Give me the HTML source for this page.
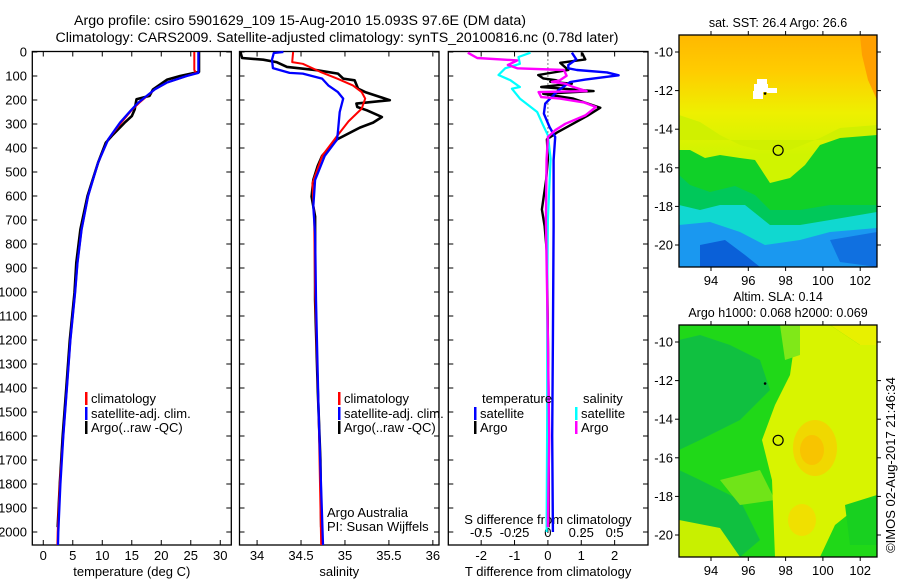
<!DOCTYPE html>
<html><head><meta charset="utf-8"><style>
html,body{margin:0;padding:0;background:#fff;}
svg{display:block;font-family:"Liberation Sans",sans-serif;}
text{fill:#000;}
</style></head><body>
<svg id="fig" width="900" height="580" viewBox="0 0 900 580">
<g font-size="14.2" text-anchor="middle">
<text x="300" y="25">Argo profile: csiro 5901629_109 15-Aug-2010 15.093S 97.6E (DM data)</text>
<text x="337" y="42">Climatology: CARS2009. Satellite-adjusted climatology: synTS_20100816.nc (0.78d later)</text>
</g>
<g id="panels"></g>
<g id="maps"></g>
</svg>
<script>
// ---------- data ----------
const depthTicks = [0,100,200,300,400,500,600,700,800,900,1000,1100,1200,1300,1400,1500,1600,1700,1800,1900,2000];
const tempTicks = [0,5,10,15,20,25,30];
const salTicks = [34,34.5,35,35.5,36];
const salTickLabels = ["34","34.5","35","35.5","36"];
const tdiffTicks = [-2,-1,0,1,2];
const sdiffTicks = [-0.5,-0.25,0,0.25,0.5];
const sdiffTickLabels = ["-0.5","-0.25","0","0.25","0.5"];

// temperature profiles (depth, value)
const tClimDepth = [0,75,87,100,128,156,211,239,294,364,461,600,739,878,1003,1200,1400,1600,1800,2000,2054];
const tClimVal   = [25.6,25.6,25.9,24.3,20.9,18.9,16.3,15.1,13.2,11.0,9.3,7.6,6.5,5.8,5.4,4.6,4.0,3.4,2.8,2.45,2.4];
const tSatDepth  = [0,87,100,128,156,211,239,294,364,461,600,739,878,1003,1200,1400,1600,1800,2000,2054];
const tSatVal    = [26.3,26.3,24.3,20.9,18.9,16.1,15.0,13.0,11.0,9.3,7.6,6.5,5.8,5.4,4.6,4.0,3.4,2.9,2.55,2.5];
const tArgoDepth = [0,83,100,115,156,183,197,211,239,267,294,350,378,461,600,739,878,1003,1200,1400,1600,1800,1980];
const tArgoVal   = [26.4,26.4,23.2,21.0,18.6,18.0,15.8,15.7,15.5,15.0,13.8,11.6,10.6,9.3,7.5,6.3,5.6,5.3,4.5,3.9,3.3,2.8,2.45];

// salinity profiles
const sClimDepth = [0,42,49,83,111,139,167,194,236,289,350,433,547,700,1000,1500,2054];
const sClimVal   = [34.41,34.40,34.52,34.72,34.91,35.09,35.19,35.23,35.19,35.04,34.91,34.74,34.63,34.65,34.66,34.70,34.73];
const sSatDepth  = [0,4,32,67,87,90,111,139,167,194,250,333,364,433,533,644,756,1033,1500,2054];
const sSatVal    = [34.30,34.19,34.17,34.18,34.37,34.52,34.74,34.81,34.92,34.98,34.94,34.92,34.91,34.77,34.66,34.64,34.66,34.67,34.70,34.75];
const sArgoDepth = [0,25,32,42,62,76,90,111,118,153,167,201,215,229,243,271,294,315,364,433,475,533,603,686,1033,1400,1700,1980];
const sArgoVal   = [33.81,33.83,34.07,34.22,34.34,34.68,34.92,34.98,35.11,35.15,35.23,35.51,35.13,35.14,35.25,35.42,35.32,35.17,34.91,34.74,34.69,34.64,34.62,34.66,34.66,34.69,34.72,34.73];

// differences from climatology
const dTArgoDepth = [3,31,45,75,96,110,118,124,132,146,163,174,194,232,267,336,364,447,530,656,725,836,1200,1600,1980];
const dTArgoVal   = [1.02,1.12,0.37,0.61,-0.29,-0.14,0.27,0.07,0.72,-0.2,1.37,-0.14,0.76,1.57,1.17,0.27,-0.03,0.0,-0.05,-0.18,-0.1,-0.03,0.0,0.03,0.02];
const dTSatDepth  = [3,31,54,68,75,85,97,115,125,160,215,257,313,354,451,729,1200,1600,2000];
const dTSatVal    = [0.72,0.85,0.61,0.61,0.87,1.77,2.12,1.12,0.67,0.31,-0.08,-0.12,0.05,0.22,0.17,0.17,0.15,0.13,0.15];
const dSArgoDepth = [3,25,35,54,68,75,99,118,124,132,146,163,167,188,194,210,229,264,299,326,354,447,700,1200,1600,1980];
const dSArgoVal   = [-0.60,-0.53,-0.23,-0.30,-0.23,0.12,0.14,0.09,0.03,0.13,0.19,0.29,-0.07,-0.05,0.09,0.27,0.36,0.28,0.13,0.055,0.0,-0.01,-0.015,0.0,0.01,0.0];
const dSSatDepth  = [3,21,49,68,96,118,146,153,194,250,306,347,444,700,1000,1500,2000];
const dSSatVal    = [-0.13,-0.22,-0.21,-0.32,-0.37,-0.28,-0.21,-0.27,-0.21,-0.08,-0.035,0.0,0.02,0.0,-0.005,-0.005,-0.01];

// map axes
const lonTicks = [94,96,98,100,102];
const latTicks = [-10,-12,-14,-16,-18,-20];
const argoLon = 97.6, argoLat = -15.093;

// ---------- drawing ----------
const NS = "http://www.w3.org/2000/svg";
const panelsG = document.getElementById('panels');
const mapsG = document.getElementById('maps');
function mk(tag, attrs, parent){const e=document.createElementNS(NS,tag);for(const k in attrs)e.setAttribute(k,attrs[k]);parent.appendChild(e);return e;}
function txt(x,y,s,anchor,size,parent){const t=mk('text',{x:x,y:y,'text-anchor':anchor||'middle','font-size':size||12},parent);t.textContent=s;return t;}

const yTop=51.5, yBot=545;
const yD = d => 52 + d*0.24;

const panels = [
  {name:'temperature-panel', x0:32.3, x1:231.3, v0:-1.86, v1:31.87},
  {name:'salinity-panel', x0:239.5, x1:439, v0:33.80, v1:36.07},
  {name:'difference-panel', x0:448.3, x1:648, v0:-2.985, v1:3.0}
];
function xf(p){return v => p.x0 + (v-p.v0)/(p.v1-p.v0)*(p.x1-p.x0);}

panels.forEach((p,i)=>{
  const g = mk('g',{},panelsG);
  
  
  const r = mk('rect',{x:p.x0,y:yTop,width:p.x1-p.x0,height:yBot-yTop,fill:'#fff',stroke:'#000','stroke-width':1.3},g);
  
  
  depthTicks.forEach(d=>{
    const y=yD(d);
    mk('line',{x1:p.x0,x2:p.x0+5,y1:y,y2:y,stroke:'#000'},g);
    mk('line',{x1:p.x1,x2:p.x1-5,y1:y,y2:y,stroke:'#000'},g);
    if(i===0){const t=txt(27,y+4.5,String(d),'end',13,g);
      
      }
  });
});

function xTicks(p, ticks, labels, title){
  const X = xf(p);
  const g = mk('g',{},panelsG);
  
  
  ticks.forEach((v,k)=>{
    const x=X(v);
    mk('line',{x1:x,x2:x,y1:yBot,y2:yBot-5,stroke:'#000'},g);
    mk('line',{x1:x,x2:x,y1:yTop,y2:yTop+5,stroke:'#000'},g);
    const t=txt(x,560,labels[k],'middle',13,g);
    
    
  });
  const tt=txt((p.x0+p.x1)/2,576,title,'middle',13,g);
  
  
}
xTicks(panels[0], tempTicks, tempTicks.map(String), 'temperature (deg C)');
xTicks(panels[1], salTicks, salTickLabels, 'salinity');
xTicks(panels[2], tdiffTicks, tdiffTicks.map(String), 'T difference from climatology');

(function(){
  const p=panels[2]; const X=xf(p);
  const g=mk('g',{},panelsG);
  
  
  sdiffTicks.forEach((v,k)=>{
    const x=X(v*4);
    mk('line',{x1:x,x2:x,y1:529,y2:533,stroke:'#000'},g);
    const t=txt(x,537,sdiffTickLabels[k],'middle',13,g);
    
    
  });
  const t=txt(548,524,'S difference from climatology','middle',13,g);
  
  
  mk('line',{x1:X(0),x2:X(0),y1:yTop,y2:140,stroke:'#000','stroke-dasharray':'1,3'},g);
})();

function series(p, depths, vals, color, w, name, scale){
  const X=xf(p); scale=scale||1;
  const pts=depths.map((d,k)=>X(vals[k]*scale).toFixed(1)+','+yD(d).toFixed(1)).join(' ');
  const l=mk('polyline',{points:pts,fill:'none',stroke:color,'stroke-width':w,'stroke-linejoin':'round'},panelsG);
  
  
}
series(panels[0], tArgoDepth, tArgoVal, '#000', 2.6, 'temp-argo-line');
series(panels[0], tClimDepth, tClimVal, '#f00', 2, 'temp-climatology-line');
series(panels[0], tSatDepth, tSatVal, '#00f', 2.3, 'temp-satellite-line');
series(panels[1], sArgoDepth, sArgoVal, '#000', 2.6, 'salinity-argo-line');
series(panels[1], sClimDepth, sClimVal, '#f00', 2, 'salinity-climatology-line');
series(panels[1], sSatDepth, sSatVal, '#00f', 2.3, 'salinity-satellite-line');
series(panels[2], dTArgoDepth, dTArgoVal, '#000', 2.4, 't-diff-argo-line');
series(panels[2], dTSatDepth, dTSatVal, '#00f', 2.4, 't-diff-satellite-line');
series(panels[2], dSSatDepth, dSSatVal, '#0ff', 2.2, 's-diff-satellite-line', 4);
series(panels[2], dSArgoDepth, dSArgoVal, '#f0f', 2.4, 's-diff-argo-line', 4);

function legendEntry(x,y,color,label){
  const g=mk('g',{},panelsG);
  
  
  mk('rect',{x:x,y:y-11,width:2.5,height:13,fill:color},g);
  txt(x+6,y,label,'start',13,g);
}
[85,338].forEach(x=>{
  legendEntry(x,403,'#f00','climatology');
  legendEntry(x,418,'#00f','satellite-adj. clim.');
  legendEntry(x,432,'#000','Argo(..raw -QC)');
});
(function(){
  const g=mk('g',{},panelsG);
  
  
  txt(482,403,'temperature','start',13,g);
  txt(583,403,'salinity','start',13,g);
})();
legendEntry(474,418,'#00f','satellite');
legendEntry(474,432,'#000','Argo');
legendEntry(575,418,'#0ff','satellite');
legendEntry(575,432,'#f0f','Argo');
(function(){
  const g=mk('g',{},panelsG);
  
  
  txt(327,517,'Argo Australia','start',13,g);
  txt(327,531,'PI: Susan Wijffels','start',13,g);
})();

// ---------- maps ----------
const mx0=679, mx1=877;
const lonX = lon => 711 + (lon-94)*18.65;
function drawMap(y0, name, titleLines, fillFn){
  const y1=y0+232;
  const latY = lat => y0+17 + (-10-lat)*19.3;
  const g=mk('g',{},mapsG);
  
  
  const cid='clip'+y0;
  const cp=mk('clipPath',{id:cid},g); mk('rect',{x:mx0,y:y0,width:mx1-mx0,height:y1-y0},cp);
  const inner=mk('g',{'clip-path':'url(#'+cid+')'},g);
  fillFn(inner,y0);
  mk('rect',{x:mx0,y:y0,width:mx1-mx0,height:y1-y0,fill:'none',stroke:'#000','stroke-width':1.3},g);
  lonTicks.forEach(l=>{const x=lonX(l);
    mk('line',{x1:x,x2:x,y1:y0,y2:y0-4,stroke:'#000'},g);
    mk('line',{x1:x,x2:x,y1:y1,y2:y1+4,stroke:'#000'},g);
    txt(x,y1+18,String(l),'middle',13,g);});
  latTicks.forEach(l=>{const y=latY(l);
    mk('line',{x1:mx0,x2:mx0-4,y1:y,y2:y,stroke:'#000'},g);
    mk('line',{x1:mx1,x2:mx1+4,y1:y,y2:y,stroke:'#000'},g);
    txt(673,y+4.5,String(l),'end',13,g);});
  const c=mk('circle',{cx:lonX(argoLon),cy:latY(argoLat),r:5,fill:'none',stroke:'#000','stroke-width':1.2},g);
  
  
  mk('circle',{cx:lonX(96.9),cy:latY(-12.15),r:1.3,fill:'#000'},g);
  titleLines.forEach((s,k)=>txt(778,y0-(titleLines.length-k-1)*16-8,s,'middle',12.5,g));
}
function poly(p,pts,fill){mk('polygon',{points:pts,fill:fill},p);}
drawMap(35,'sst-map',['sat. SST: 26.4 Argo: 26.6'],(g,y0)=>{
  const d=mk('defs',{},g);
  const lg=mk('linearGradient',{id:'sstg',x1:0,y1:35,x2:0,y2:155,gradientUnits:'userSpaceOnUse'},d);
  mk('stop',{offset:'0','stop-color':'#ffb800'},lg);
  mk('stop',{offset:'0.3','stop-color':'#ffcc00'},lg);
  mk('stop',{offset:'0.65','stop-color':'#eef000'},lg);
  mk('stop',{offset:'1','stop-color':'#d0f400'},lg);
  mk('rect',{x:mx0,y:35,width:200,height:232,fill:'url(#sstg)'},g);
  poly(g,'860,35 877,35 877,100 868,80 862,55','#ffa000');
  poly(g,'679,140 679,115 700,122 720,135 740,145 760,150 790,150 820,138 840,128 877,125 877,140','#d0f000');
  poly(g,'679,150 690,150 705,158 720,155 740,158 755,160 770,183 790,178 805,165 820,145 840,138 877,135 877,267 679,267','#10d028');
  poly(g,'679,175 690,185 710,192 735,186 755,195 770,210 800,210 830,205 877,205 877,267 679,267','#00c85a');
  poly(g,'679,205 700,210 720,205 745,205 770,225 800,225 830,220 877,212 877,267 679,267','#10d8d0');
  poly(g,'679,225 710,222 740,232 765,245 800,240 830,232 877,228 877,267 679,267','#1a98f0');
  poly(g,'700,245 725,240 745,255 760,267 700,267','#0a60d8');
  poly(g,'830,240 877,232 877,267 840,262','#1070e0');
  mk('rect',{x:754,y:84,width:14,height:8,fill:'#fff'},g);
  mk('rect',{x:757,y:79,width:10,height:6,fill:'#fff'},g);
  mk('rect',{x:767,y:88,width:10,height:5,fill:'#fff'},g);
  mk('rect',{x:753,y:91,width:10,height:8,fill:'#fff'},g);
});
drawMap(325,'sla-map',['Altim. SLA: 0.14','Argo h1000: 0.068 h2000: 0.069'],(g,y0)=>{
  mk('rect',{x:mx0,y:325,width:200,height:232,fill:'#20d818'},g);
  poly(g,'679,340 700,335 730,345 760,360 770,390 740,420 700,440 679,450','#10c040');
  poly(g,'679,470 700,480 740,500 760,540 740,557 679,557','#10c040');
  poly(g,'679,520 720,528 740,557 679,557','#c8f000');
  poly(g,'720,480 760,470 775,500 740,505','#70e418');
  poly(g,'780,325 830,325 860,345 877,340 877,500 860,505 835,525 820,557 775,557 772,480 762,440 775,405 790,375 795,340','#d8f400');
  poly(g,'830,325 877,325 877,345 860,345','#e8f000');
  mk('ellipse',{cx:815,cy:448,rx:22,ry:28,fill:'#f0d800'},g);
  mk('ellipse',{cx:812,cy:450,rx:12,ry:15,fill:'#f8c400'},g);
  mk('ellipse',{cx:802,cy:520,rx:14,ry:16,fill:'#f0e000'},g);
  poly(g,'845,505 877,495 877,545 850,545','#18d020');
  poly(g,'780,325 800,325 800,355 785,360','#80e818');
});
const cr=txt(0,0,'©IMOS 02-Aug-2017 21:46:34','middle',13,mapsG);
cr.setAttribute('transform','translate(895,465) rotate(-90)');


</script>
</body></html>
